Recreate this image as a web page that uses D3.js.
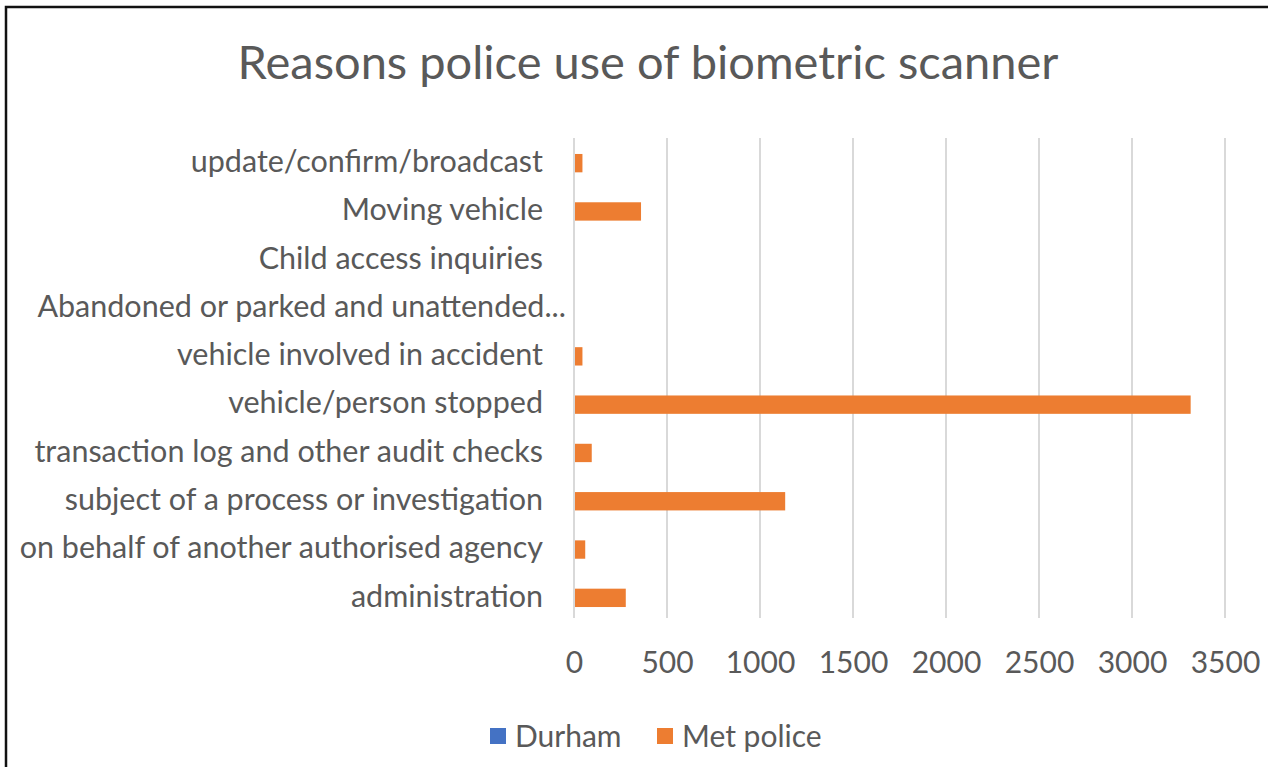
<!DOCTYPE html>
<html>
<head>
<meta charset="utf-8">
<script src="https://cdn.jsdelivr.net/npm/d3@7"></script>
<style>
html, body {
   margin: 0;
   padding: 0;
   background: #fff;
}
svg text {
   font-family: Lato, "Open Sans", sans-serif;
   fill: #595959;
}
</style>
</head>
<body>
<div id="chart"></div>
<script>
// categories top to bottom, as in the picture
const categories = [
    "update/confirm/broadcast",
    "Moving vehicle",
    "Child access inquiries ",
    "Abandoned or parked and unattended...",
    "vehicle involved in accident",
    "vehicle/person stopped",
    "transaction log and other audit checks",
    "subject of a process or investigation",
    "on behalf of another authorised agency",
    "administration"
];
const durham = [0, 0, 0, 0, 0, 0, 0, 0, 0, 0];
const metPolice = [40, 355, 0, 0, 40, 3310, 90, 1130, 55, 273];
const xTicks = [0, 500, 1000, 1500, 2000, 2500, 3000, 3500];
const seriesNames = ["Durham", "Met police"];
const colors = ["#4472C4", "#ED7D31"];

const width = 1268, height = 767;
const margin = { top: 138, right: 43, bottom: 146, left: 574 };

const svg = d3.select("#chart").append("svg")
    .attr("width", width)
    .attr("height", height);

// frame: only top and left edges show in the picture
svg.append("path")
    .attr("d", `M6,${height} V7 H${width}`)
    .attr("fill", "none")
    .attr("stroke", "#111")
    .attr("stroke-width", 2.5);

svg.append("text")
    .attr("x", 648)
    .attr("y", 79)
    .attr("text-anchor", "middle")
    .attr("font-size", 47)
    .text("Reasons police use of biometric scanner");

let x = d3.scaleLinear()
    .domain([0, 3500])
    .range([margin.left, width - margin.right]);

let y = d3.scaleBand()
    .domain(categories)
    .range([margin.top, height - margin.bottom])
    .paddingInner(0.62)
    .paddingOuter(0.31);

// gridlines
svg.append("g")
    .selectAll("line")
    .data(xTicks)
    .join("line")
    .attr("x1", d => x(d))
    .attr("x2", d => x(d))
    .attr("y1", margin.top)
    .attr("y2", height - margin.bottom - 3)
    .attr("stroke", "#d9d9d9")
    .attr("stroke-width", 2);

// x axis labels
const xAxis = svg.append("g")
    .attr("transform", `translate(0,${height - margin.bottom + 31})`)
    .call(d3.axisBottom(x).tickValues(xTicks).tickFormat(d3.format("d")).tickSize(0).tickPadding(0));
xAxis.select(".domain").remove();
xAxis.selectAll("text")
    .attr("font-size", 30)
    .attr("font-family", null)
    .attr("fill", "#595959");

// category labels
const yAxis = svg.append("g")
    .attr("transform", `translate(${margin.left - 31},0)`)
    .call(d3.axisLeft(y).tickSize(0).tickPadding(0));
yAxis.select(".domain").remove();
yAxis.selectAll("text")
    .attr("font-size", 30.5)
    .attr("font-family", null)
    .attr("fill", "#595959")
    .attr("dx", d => d.endsWith("...") ? 23 : 0);

// bars (Durham is all zero, Met police sits on top of it)
[durham, metPolice].forEach((values, i) => {
    svg.append("g")
        .attr("fill", colors[i])
        .selectAll("rect")
        .data(values)
        .join("rect")
        .attr("x", x(0) + 1)
        .attr("y", (d, j) => y(categories[j]) + 1)
        .attr("width", d => Math.max(0, x(d) - x(0)))
        .attr("height", y.bandwidth());
});

// legend
const legend = svg.append("g")
    .attr("transform", "translate(490,736)");
const legendX = [0, 167];
seriesNames.forEach((name, i) => {
    const g = legend.append("g").attr("transform", `translate(${legendX[i]},0)`);
    g.append("rect")
        .attr("x", 0)
        .attr("y", -8)
        .attr("width", 16)
        .attr("height", 16)
        .attr("fill", colors[i]);
    g.append("text")
        .attr("x", 25)
        .attr("y", 11)
        .attr("font-size", 30)
        .text(name);
});
</script>
</body>
</html>
